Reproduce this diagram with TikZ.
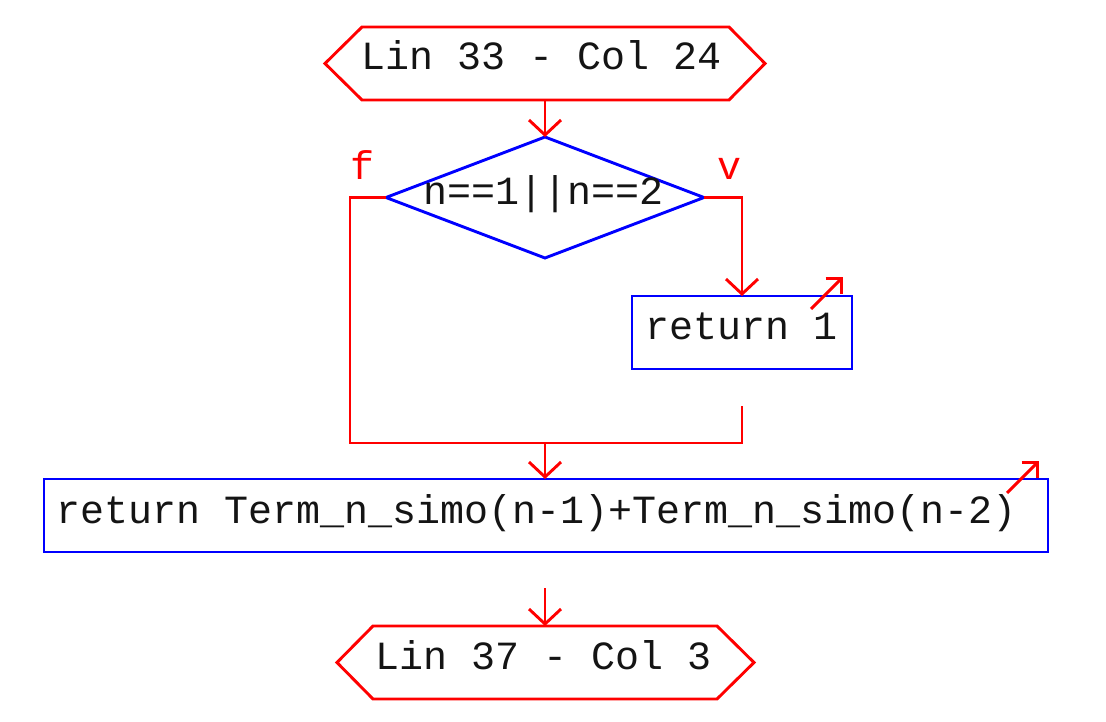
\documentclass[tikz,border=0pt]{standalone}
\usepackage{fontspec}
\newfontfamily\cour{Liberation Mono}
\usetikzlibrary{arrows.meta,shapes.geometric,calc}
\definecolor{fred}{RGB}{255,0,0}
\definecolor{fblue}{RGB}{0,0,255}
\definecolor{ftext}{RGB}{20,20,20}
\tikzset{
  shapebox/.style={draw=none,inner sep=0pt,outer sep=0pt,minimum height=73pt},
  bluebox/.style={draw=fblue,line width=2.9pt,inner sep=0pt,outer sep=0pt,minimum height=73pt},
  redline/.style={draw=fred,line width=2.9pt},
  flowarrow/.style={redline,-{Straight Barb[length=15pt,width=32pt]}},
  smallarrow/.style={redline,-{Straight Barb[length=11.3pt,width=22.6pt]}},
  codetext/.style={anchor=base,inner sep=0pt,outer sep=0pt,text=ftext,font=\cour\fontsize{40}{48}\selectfont},
  branchtext/.style={anchor=base,inner sep=0pt,outer sep=0pt,text=fred,font=\cour\fontsize{40}{48}\selectfont},
}
\begin{document}
\begin{tikzpicture}[x=1pt,y=-1pt,line join=miter]
\useasboundingbox (0,0) rectangle (1106,722);

% start hexagon
\node[shapebox,minimum width=440pt] (start) at (545,63.5) {};
\draw[redline] (start.west) -- ($(start.north west)+(37,0)$) -- ($(start.north east)+(-36,0)$)
  -- (start.east) -- ($(start.south east)+(-36,0)$) -- ($(start.south west)+(37,0)$) -- cycle;
\node[codetext] (starttxt) at (542,70) {Lin 33 - Col 24};

% decision
\node[diamond,draw=fblue,line width=2.9pt,inner sep=0pt,outer sep=0pt,
      minimum width=318pt,minimum height=121pt] (cond) at (545,197.5) {};
\node[codetext] (condtxt) at (543.5,205) {n==1||n==2};
\node[branchtext] (flbl) at (362.5,180) {f};
\node[branchtext] (vlbl) at (729,180) {v};

% return 1
\node[bluebox,minimum width=220pt] (ret1) at (742,332.5) {};
\node[codetext] (ret1txt) at (742,339) {return 1};

% big return
\node[bluebox,minimum width=1004pt] (big) at (546,515.5) {};
\node[codetext] (bigtxt) at (537,523) {return Term\_n\_simo(n-1)+Term\_n\_simo(n-2)};

% end hexagon
\node[shapebox,minimum width=417pt] (stop) at (545.5,662.5) {};
\draw[redline] (stop.west) -- ($(stop.north west)+(36,0)$) -- ($(stop.north east)+(-37,0)$)
  -- (stop.east) -- ($(stop.south east)+(-37,0)$) -- ($(stop.south west)+(36,0)$) -- cycle;
\node[codetext] (stoptxt) at (543.5,669) {Lin 37 - Col 3};

% junction coordinates
\coordinate (jl) at (350,443);
\coordinate (jr) at (742,443);
\coordinate (jt) at (742,406);
\coordinate (jm) at (545,443);
\coordinate (bo) at (545,588);

% connectors
\draw[flowarrow] (start.south) -- (cond.north);
\draw[flowarrow] (cond.east) -| (ret1.north);
\draw[redline] (cond.west) -| (jl) -- (jr) -- (jt);
\draw[flowarrow] (jm) -- (jm |- big.north);
\draw[flowarrow] (bo) -- (bo |- stop.north);

% small arrows
\coordinate (s1a) at ($(ret1.north east)+(-41,13)$);
\coordinate (s1b) at ($(ret1.north east)+(-9,-19)$);
\draw[smallarrow] (s1a) -- (s1b);
\coordinate (s2a) at ($(big.north east)+(-41,14)$);
\coordinate (s2b) at ($(big.north east)+(-9,-18)$);
\draw[smallarrow] (s2a) -- (s2b);
\end{tikzpicture}
\end{document}
